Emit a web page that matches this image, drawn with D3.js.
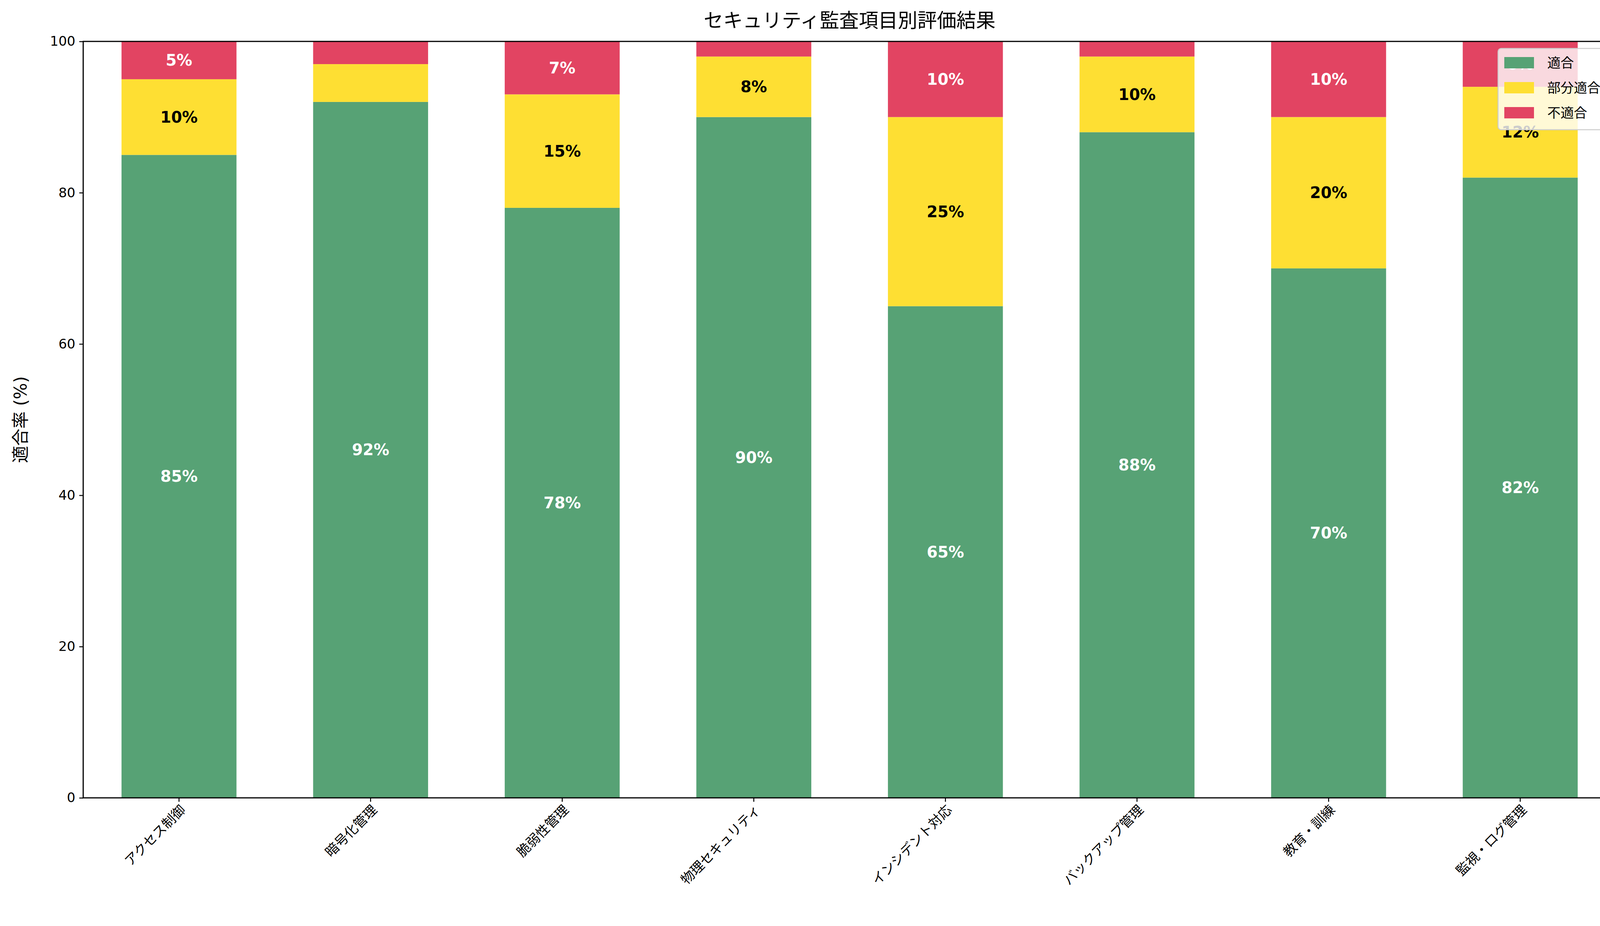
<!DOCTYPE html>
<html><head><meta charset="utf-8">
<script src="https://cdn.jsdelivr.net/npm/d3@7"></script>
<style>body{margin:0;background:#fff}text{font-family:"DejaVu Sans","Noto Sans CJK JP",sans-serif}</style>
</head><body>
<script>
const categories = ['アクセス制御', '暗号化管理', '脆弱性管理', '物理セキュリティ', 'インシデント対応', 'バックアップ管理', '教育・訓練', '監視・ログ管理'];
const compliant = [85, 92, 78, 90, 65, 88, 70, 82];
const partial = [10, 5, 15, 8, 25, 10, 20, 12];
const nonCompliant = [5, 3, 7, 2, 10, 2, 10, 6];
const seriesNames = ['適合', '部分適合', '不適合'];
const colors = ['#57a275', '#fedf33', '#e24462'];
const labelColors = ['#fff', '#000', '#fff'];
const yTicks = [0, 20, 40, 60, 80, 100];

const W = 4169, H = 2370;
const m = { top: 106, right: 32, bottom: 328, left: 213 };
const iw = W - m.left - m.right, ih = H - m.top - m.bottom;

const svg = d3.select('body').append('svg').attr('width', W).attr('height', H);
const g = svg.append('g').attr('transform', `translate(${m.left},${m.top})`);

const x = d3.scaleBand().domain(categories).range([0, iw]).paddingInner(0.4).paddingOuter(0.2);
const y = d3.scaleLinear().domain([0, 100]).range([ih, 0]);

const rows = categories.map((c, i) => ({ cat: c, v0: compliant[i], v1: partial[i], v2: nonCompliant[i] }));
const stack = d3.stack().keys(['v0', 'v1', 'v2'])(rows);

stack.forEach((layer, k) => {
    g.append('g').selectAll('rect')
        .data(layer)
        .enter().append('rect')
        .attr('x', d => x(d.data.cat))
        .attr('y', d => y(d[1]))
        .attr('width', x.bandwidth())
        .attr('height', d => y(d[0]) - y(d[1]))
        .attr('fill', colors[k]);
});

// value labels (small segments are skipped)
stack.forEach((layer, k) => {
    g.append('g').selectAll('text')
        .data(layer.filter(d => (d[1] - d[0]) > 5 || (k === 2 && (d[1] - d[0]) >= 5)))
        .enter().append('text')
        .attr('x', d => x(d.data.cat) + x.bandwidth() / 2)
        .attr('y', d => y((d[0] + d[1]) / 2))
        .attr('dy', '0.35em')
        .attr('text-anchor', 'middle')
        .attr('font-size', '40px')
        .attr('font-weight', 'bold')
        .attr('fill', labelColors[k])
        .text(d => `${d[1] - d[0]}%`);
});

// axes
const yAxis = g.append('g')
    .call(d3.axisLeft(y).tickValues(yTicks).tickSize(10).tickPadding(10));
yAxis.selectAll('text').style('font-size', '34px');

const xAxis = g.append('g')
    .attr('transform', `translate(0,${ih})`)
    .call(d3.axisBottom(x).tickSize(10).tickPadding(6));
xAxis.selectAll('text')
    .style('font-size', '34px')
    .attr('text-anchor', 'end')
    .attr('transform', 'rotate(-45)')
    .attr('dx', '-0.3em')
    .attr('dy', '0.6em');
g.selectAll('.domain').remove();
g.selectAll('.tick line').attr('stroke-width', 2.5);

g.append('rect')
    .attr('width', iw).attr('height', ih)
    .attr('fill', 'none').attr('stroke', '#000').attr('stroke-width', 3);

// title and y label
svg.append('text')
    .attr('x', m.left + iw / 2).attr('y', 70)
    .attr('text-anchor', 'middle').attr('font-size', '50px')
    .text('セキュリティ監査項目別評価結果');

svg.append('text')
    .attr('transform', `translate(68,${m.top + ih / 2}) rotate(-90)`)
    .attr('text-anchor', 'middle').attr('font-size', '44px')
    .text('適合率 (%)');

// legend
const lg = svg.append('g').attr('transform', `translate(${m.left + iw - 302},${m.top + 18})`);
lg.append('rect')
    .attr('width', 290).attr('height', 208).attr('rx', 8)
    .attr('fill', 'rgba(255,255,255,0.8)').attr('stroke', '#ccc').attr('stroke-width', 2.5);
seriesNames.forEach((s, i) => {
    lg.append('rect').attr('x', 16).attr('y', 22 + i * 64).attr('width', 76).attr('height', 29).attr('fill', colors[i]);
    lg.append('text').attr('x', 126).attr('y', 37 + i * 64).attr('dy', '0.35em')
        .attr('font-size', '34px').text(s);
});
</script>
</body></html>
